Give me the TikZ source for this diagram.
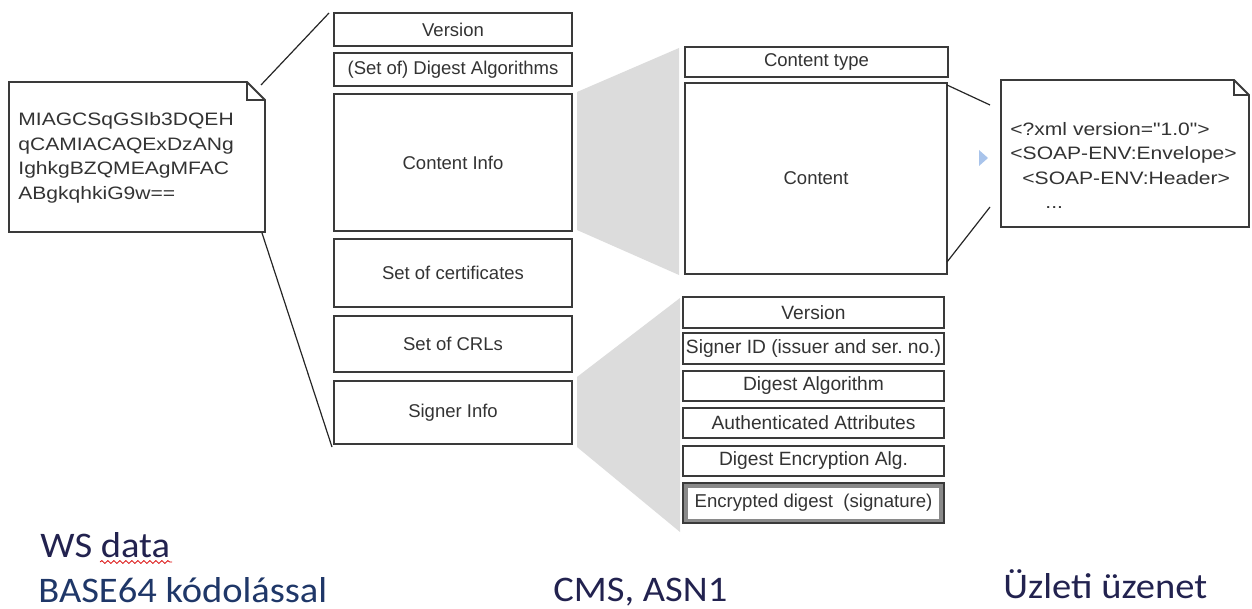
\documentclass[tikz,border=0pt]{standalone}
\usepackage{fontspec}
\setmainfont{Liberation Sans}
\newfontfamily\notefont[FakeStretch=1.17]{Liberation Sans}
\newfontfamily\labfont[FakeStretch=1.07]{Carlito}
\usetikzlibrary{decorations.pathmorphing}
\definecolor{boxline}{HTML}{3A3A3A}
\definecolor{boxtext}{HTML}{333333}
\definecolor{zoomgray}{HTML}{DCDCDC}
\definecolor{navy}{HTML}{22224F}
\definecolor{navyblue}{HTML}{1F3768}
\definecolor{tipblue}{HTML}{A9C4EB}
\definecolor{encgray}{HTML}{8A8A8A}
\begin{document}
\begin{tikzpicture}[x=0.5pt,y=-0.5pt,
  fieldbox/.style={draw=boxline, line width=0.9pt, fill=white, inner sep=0pt, text=boxtext, font=\fontsize{9.25}{11}\selectfont},
  midbox/.style={fieldbox, minimum width=119pt},
  rightbox/.style={fieldbox, minimum width=130.5pt, font=\fontsize{9.6}{11}\selectfont},
  notepath/.style={draw=boxline, line width=0.9pt, fill=white},
  foldpath/.style={draw=boxline, line width=0.9pt},
  zoomline/.style={draw=black!85, line width=0.6pt},
  zoomfill/.style={fill=zoomgray, draw=none},
  notetext/.style={inner sep=0pt, anchor=north west, align=left, text=boxtext, font=\notefont\fontsize{9}{12.25}\selectfont},
  bottomlabel/.style={inner sep=0pt, anchor=base west, font=\labfont\fontsize{18}{22}\selectfont},
]
\useasboundingbox (0,0) rectangle (1252,609);

% zoom wedges
\fill[zoomfill] (577,92) -- (679,48) -- (679,275) -- (577,230) -- cycle;
\fill[zoomfill] (577,377) -- (680,298) -- (680,532) -- (577,447) -- cycle;

% left note (BASE64 data)
\draw[notepath] (9,82) -- (247,82) -- (265,100) -- (265,232) -- (9,232) -- cycle;
\draw[foldpath] (247,82) -- (247,100) -- (265,100);
\node[notetext] (b64text) at (18,112.5) {MIAGCSqGSIb3DQEH\\qCAMIACAQExDzANg\\IghkgBZQMEAgMFAC\\ABgkqhkiG9w==};

% middle column (CMS)
\node[midbox, minimum height=16.5pt] (ver) at (453,29.5) {Version};
\node[midbox, minimum height=16.5pt] (dig) at (453,69.5) {(Set of) Digest Algorithms};
\node[midbox, minimum height=68.5pt] (ci) at (453,162.5) {Content Info};
\node[midbox, minimum height=34pt] (cert) at (453,273) {Set of certificates};
\node[midbox, minimum height=28pt] (crl) at (453,344) {Set of CRLs};
\node[midbox, minimum height=31.5pt] (si) at (453,412.5) {Signer Info};

% content info detail
\node[fieldbox, minimum width=131.5pt, minimum height=15pt] (ct) at (816.5,62) {Content type};
\node[fieldbox, minimum width=131pt, minimum height=95.5pt] (content) at (816,178.5) {Content};

% signer info detail
\node[rightbox, minimum height=15.5pt] (sv) at (813.5,312.5) {Version};
\node[rightbox, minimum height=15.5pt] (sid) at (813.5,348.5) {Signer ID (issuer and ser.\ no.)};
\node[rightbox, minimum height=15pt] (sda) at (813.5,386) {Digest Algorithm};
\node[rightbox, minimum height=15pt] (saa) at (813.5,423) {Authenticated Attributes};
\node[rightbox, minimum height=15pt] (sdea) at (813.5,461) {Digest Encryption Alg.};
\node[rightbox, minimum height=20pt, fill=encgray] (sed) at (813.5,503) {};
\node[fill=white, inner sep=0pt, minimum width=125.5pt, minimum height=15.5pt, text=boxtext, font=\fontsize{9.3}{11}\selectfont] (sedtext) at (sed.center) {Encrypted digest\ \ (signature)};

% right note (XML)
\draw[notepath] (1001,80) -- (1234,80) -- (1249,95) -- (1249,227) -- (1001,227) -- cycle;
\draw[foldpath] (1234,80) -- (1234,95) -- (1249,95);
\node[notetext, font=\notefont\fontsize{9}{12.15}\selectfont] (xmltext) at (1010,122) {<?xml version="1.0">\\<SOAP-ENV:Envelope>\\\hspace*{6pt}<SOAP-ENV:Header>\\\hspace*{17.5pt}...};
\fill[tipblue] (979,150) -- (988,158) -- (979,166) -- cycle;

% zoom lines
\coordinate (l1a) at (261,85);  \coordinate (l1b) at (329,13);
\coordinate (l2a) at (262,233); \coordinate (l2b) at (332,447);
\coordinate (r1a) at (947,85);  \coordinate (r1b) at (990,105);
\coordinate (r2a) at (947,262); \coordinate (r2b) at (990,207);
\draw[zoomline] (l1a) -- (l1b);
\draw[zoomline] (l2a) -- (l2b);
\draw[zoomline] (r1a) -- (r1b);
\draw[zoomline] (r2a) -- (r2b);

% captions
\node[bottomlabel, text=navy] (ws) at (40,557) {WS data};
\draw[red!85!black, line width=0.4pt, decorate, decoration={snake, amplitude=0.7pt, segment length=3pt}] (100,562) -- (172,562);
\node[bottomlabel, text=navyblue] (b64) at (38,602) {BASE64 kódolással};
\node[bottomlabel, text=navy] (cms) at (553,601) {CMS, ASN1};
\node[bottomlabel, text=navy] (biz) at (1003,598) {Üzleti üzenet};
\end{tikzpicture}
\end{document}
